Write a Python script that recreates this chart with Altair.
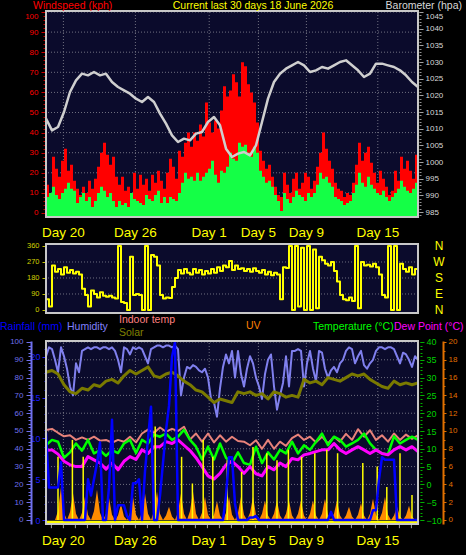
import altair as alt
import pandas as pd

# ---------------- data ----------------
# quarter-day samples, t = 0 .. 31 days
wind_gust = [14,10,28,22, 18,26,32,21, 24,16,12,9, 13,10,16,12, 17,23,30,35, 29,24,28,18,
             14,18,11,13, 9,20,12,19, 14,17,11,19, 15,21,16,12, 20,27,23,17, 31,28,35,40,
             33,40,36,44, 38,55,45,40, 46,42,51,63, 58,61,69,65, 58,75,73,64, 60,55,45,31,
             26,22,24,18, 13,9,8,20, 14,10,17,20, 12,15,20,18, 12,16,23,30, 40,32,26,22,
             15,12,11,8, 10,9,15,24, 35,26,30,33, 25,20,15,21, 17,13,9,11, 21,16,28,22,
             26,21,17,29, 18]
wind_avg = [8,10,13,9, 7,10,12,15, 12,11,5,8, 10,6,8,3, 6,10,13,11, 8,10,6,3,
            6,4,5,3, 10,7,6,5, 4,9,7,6, 9,11,5,8, 5,8,7,6, 10,15,20,17,
            18,16,20,16, 18,20,22,26, 19,15,21,20, 23,30,27,26, 35,33,34,30, 28,33,30,21,
            18,15,16,13, 9,6,1,10, 7,5,8,11, 9,8,6,10, 8,10,14,20, 17,18,15,13,
            8,7,6,4, 5,6,10,14, 20,15,13,18, 14,12,10,9, 11,8,6,8, 10,12,16,13,
            11,10,12,15, 11]
wind_dir = [60,20,250,215, 230,200,240,210, 225,205,215,200, 120,85,20,110, 90,70,100,80,
            75,80,70,65, 360,45,40,0, 300,85,90,85, 0,360,0,310, 300,250,85,65,
            70,68,130,180, 225,205,230,210, 200,230,210,225, 200,220,205,230, 210,240,220,250,
            240,275,225,250, 230,235,220,230, 215,235,220,210, 225,200,215,195, 210,200,60,240,
            236,360,0,360, 20,350,0,360, 0,340,10,300, 280,260,250,270, 220,160,85,60,
            55,70,50,360, 10,270,250,255, 245,260,240,200, 85,70,360,0, 360,0,260,230,
            215,240,200,230, 225]
humidity = [92,97,96,90, 83,97,92,85, 75,70,88,83, 95,96,97,96, 97,97,96,97, 97,96,97,95,
            90,83,97,96, 93,97,96,97, 96,92,88,96, 97,98,98,97, 98,98,97,98, 96,70,80,86,
            85,87,86,84, 83,85,80,68, 66,58,74,86, 93,88,95,80, 95,82,75,85, 92,88,80,75,
            68,82,90,93, 75,62,70,77, 92,75,95,95, 96,95,75,88, 95,85,78,95, 94,85,80,84,
            86,83,88,90, 95,97,96,88, 92,95,87,85, 88,90,95,97, 97,96,97,97, 96,92,88,94,
            93,90,86,92, 90]
rainfall = [10.7,4,4,4, 4,7.1,0,0, 0,0,0,0, 0,0,5,3, 5,7,9.5,0, 0,4,12.3,0,
            1.8,1.8,1.8,0.5, 0,4.5,4.5,5, 0,6,10,13.9, 0,0,3,7, 11,14,20,21.8, 0,0,0,0,
            0,0,0,0, 0,0,0,0, 0,0,0,0, 3,7.7,7.7,2, 0,0,0,0, 0.3,0.3,0.5,0,
            0,0,0,0, 0,0,0,0, 0,0,0,0, 0,0,0,0, 0,0,0,0, 0,0,0,1.0,
            0,0,0,0, 0,0,0,0, 0,0,0,0, 0,1.2,1.2,5, 7.7,7.4,7.4,7.4, 7.4,0,0,0,
            0,0,0,0, 0]
uv_index = [0,0,0,0, 1.0,3.7,0.8,0, 0.9,3.0,0.7,0, 0.8,2.6,0.6,0, 1.0,3.4,0.8,0, 0.7,2.5,0.6,0,
            0.5,1.8,0.4,0, 0.8,2.6,0.6,0, 0.9,3.0,0.7,0, 1.0,3.2,0.7,0, 0.5,1.5,0.4,0, 0.9,3.0,0.7,0,
            1.0,3.2,0.7,0, 0.8,2.6,0.6,0, 0.6,2.1,0.5,0, 0.8,2.6,0.6,0, 0.8,2.6,0.6,0, 0.8,2.6,0.6,0,
            0.7,2.2,0.5,0, 0.7,2.2,0.5,0, 0.7,2.2,0.5,0, 0.7,2.2,0.5,0, 0.7,2.2,0.5,0, 0.7,2.4,0.6,0,
            0.7,2.2,0.5,0, 0.5,1.5,0.4,0, 0.6,1.9,0.5,0, 0.7,2.4,0.6,0, 0.8,2.6,0.6,0, 0.5,1.5,0.4,0,
            0.5,1.6,0.4,0, 0]

# half-day samples
barometer = [1013,1009.5,1010.5,1015,1021,1024.5,1026.5,1026,1027,1026,1026.5,1024,1022.5,
             1021.5,1020.5,1019,1018,1019.5,1018,1014.5,1011.5,1008,1006,1007,1006.5,1008.5,
             1009,1012,1013.5,1011,1004,1001.5,1002.5,1003,1002,1005,1012,1019,1024,1026.5,
             1028,1029,1030,1029,1027,1027.5,1028.5,1028,1029,1030,1030.5,1029,1027.5,1025.5,
             1026.5,1029.5,1029.5,1029,1028.5,1027.5,1026,1024,1022.5]
solar = [83,84,82,76,72,71,74,73,76,75,78,79,77,81,84,82,84,86,81,80,82,83,81,78,76,73,72,
         69,66,68,67,66,72,71,72,70,71,68,72,71,69,70,69,79,77,78,76,80,79,78,80,82,81,82,
         79,77,75,74,78,76,77,76,77]
indoor_temp = [15.3,15.6,14.5,13.5,13.8,12.5,13.2,12.5,13.4,12.3,12.5,11.7,12.5,12.0,13.4,11.8,
               14.3,15.4,14.5,16.0,14.8,15.6,15.0,16.2,12.6,14.3,12.0,14.3,11.8,13.8,12.0,13.4,
               12.2,12.0,11.0,12.4,10.0,12.5,10.0,12.0,10.8,13.0,14.0,12.5,13.4,11.8,13.4,11.5,
               13.4,12.0,14.2,12.5,15.5,13.4,15.2,12.5,13.8,12.0,14.3,12.5,14.0,12.8,13.8]
temperature = [11,12.5,12,7.5,9,11.5,9.5,12.5,8.7,9.6,8,9.6,8.8,11.5,12.5,8.8,12.5,11.5,14,13.4,
               14.3,12.5,13.4,15.3,12.5,10.6,7,10.6,7,11.5,7.5,6,9,6,5.5,10.6,6,9,7,9.7,
               8.7,12,8.7,11,9.7,12,14.3,11,13.4,12.5,10.6,11.5,12.5,14.3,11.5,9.7,8.7,8.5,13.5,
               11.5,12.5,13.4,12.5]
dew_point = [9.5,9.7,8.5,6.5,5.5,5.0,5.0,7.8,6.9,6.0,4.3,6.0,4.1,6.5,7.8,7.0,9.7,8.7,10.6,10.6,
             12.0,11.5,12.5,11.0,9.5,7.5,5.0,2.4,1.5,3.1,5.5,6.5,5.0,3.1,5.0,3.0,2.4,5.0,4.1,6.0,
             5.0,7.3,6.9,8.3,8.7,9.2,9.7,9.7,11.5,9.7,8.7,9.7,10.6,9.7,8.7,9.7,8.7,8.3,9.7,10.6,
             9.7,10.6,9.2]

# thin sunshine spikes (time in days, height on the UV scale)
sun_t = [1.0,2.2,3.1,9.1,11.3,12.2,13.1,13.9,15.1,16.3,17.25,18.4,19.25,20.2,21.3,22.4,23.4,
         24.3,26.4,27.6,28.4,29.5,30.5]
sun_v = [7.1,9.0,7.1,10.5,7.1,4.1,9.0,7.1,6.7,5.4,8.2,7.5,6.7,7.9,7.1,7.5,7.9,7.5,6.4,6.0,
         3.7,7.5,2.8]

day_labels = ["Day 20", "Day 26", "Day 1", "Day 5", "Day 9", "Day 15"]
day_pos = [1.45, 7.45, 13.6, 17.7, 21.7, 27.65]
day_ticks = [k + 0.45 for k in range(31)]

compass = ["N", "W", "S", "E", "N"]
compass_deg = [360, 270, 180, 90, 0]

wind_ticks = list(range(0, 101, 10))
baro_ticks = list(range(985, 1046, 5))
dir_ticks = [0, 90, 180, 270, 360]
hum_ticks = list(range(0, 101, 10))
rain_ticks = [0, 5, 10, 15, 20]
temp_ticks = list(range(-10, 41, 5))
uv_ticks = list(range(0, 21, 2))

# ---------------- helpers ----------------
FONT = "Liberation Sans"
NAVY = "#0b0b2c"
FRAME = "#c8c8c8"
GRID = "#707080"


def fine(vals, base=None):
    d = pd.DataFrame({"t": [i * 0.25 for i in range(len(vals))], "v": vals})
    if base is not None:
        d["b"] = base
    return d


def half(vals):
    return pd.DataFrame({"t": [i * 0.5 for i in range(len(vals))], "v": vals})


XS = alt.Scale(domain=[0, 31], nice=False, zero=False)


def sc(dom, rng):
    return alt.Scale(domain=dom, range=rng, nice=False, zero=False)


WIND = sc([-2, 100.5], [217, 11])
BARO = sc([983.5, 1045.3], [217, 11])
DIR = sc([-16.9, 371.25], [313, 244])
HUM = sc([-2.25, 100.56], [524, 341])
TEMP = sc([-11.12, 40.28], [524, 341])
UV = sc([-0.45, 20.11], [524, 341])
RAIN = sc([-0.49, 21.96], [524, 341])


def X(f="t"):
    return alt.X(f"{f}:Q", scale=XS, axis=None)


def yq(field, scale):
    return alt.Y(f"{field}:Q", scale=scale, axis=None)


def panel_bg(scale, dom):
    d = pd.DataFrame({"x0": [0], "x1": [31], "y0": [dom[0]], "y1": [dom[1]]})
    return alt.Chart(d).mark_rect(fill=NAVY).encode(
        x=X("x0"), x2="x1", y=yq("y0", scale), y2="y1")


def panel_frame(scale, dom):
    d = pd.DataFrame({"x0": [0], "x1": [31], "y0": [dom[0]], "y1": [dom[1]]})
    return alt.Chart(d).mark_rect(fill=None, stroke=FRAME, strokeWidth=2).encode(
        x=X("x0"), x2="x1", y=yq("y0", scale), y2="y1")


def hgrid(scale, vals):
    d = pd.DataFrame({"v": vals})
    return alt.Chart(d).mark_rule(color=GRID, strokeDash=[1, 2], strokeWidth=1).encode(
        y=yq("v", scale))


def vgrid(scale, dom):
    d = pd.DataFrame({"t": day_pos, "lo": dom[0], "hi": dom[1]})
    return alt.Chart(d).mark_rule(color=GRID, strokeDash=[1, 2], strokeWidth=1).encode(
        x=X(), y=yq("lo", scale), y2="hi")


def axis_layer(scale, value, **kw):
    base = dict(grid=False, title=None, labelFont=FONT, labelFontSize=8, labelOverlap=False,
                domain=False, format="d")
    base.update(kw)
    d = pd.DataFrame({"v": [value]})
    return alt.Chart(d).mark_point(opacity=0).encode(
        x=alt.value(0), y=alt.Y("v:Q", scale=scale, axis=alt.Axis(**base)))


def minor(scale, value, vals, orient, color, size, offset=0):
    return axis_layer(scale, value, orient=orient, values=vals, labels=False,
                      tickColor=color, tickSize=size, offset=offset)


def line(df, scale, color, width, interp="linear"):
    return alt.Chart(df).mark_line(color=color, strokeWidth=width, strokeJoin="round",
                                   interpolate=interp).encode(
        x=X(), y=yq("v", scale))


def text(label, x, y, color, size=11, align="left"):
    d = pd.DataFrame({"s": [label]})
    return alt.Chart(d).mark_text(align=align, baseline="middle", font=FONT, fontSize=size,
                                  color=color).encode(
        x=alt.value(x), y=alt.value(y), text="s:N")


def top_label_below(limit):
    # the topmost label sits just under its tick so it clears the header text
    return {"condition": {"test": f"datum.value >= {limit}", "value": "top"}, "value": "middle"}


layers = []

# ---------------- panel 1 : wind speed + barometer ----------------
layers += [panel_bg(WIND, [-2, 100.5]),
           hgrid(WIND, list(range(10, 101, 10))),
           vgrid(WIND, [-2, 100.5])]
layers.append(alt.Chart(fine(wind_gust, -2)).mark_area(color="#ff0000", interpolate="step-after").encode(
    x=X(), y=yq("v", WIND), y2="b"))
layers.append(alt.Chart(fine(wind_avg, -2)).mark_area(color="#14ff46", interpolate="step-after").encode(
    x=X(), y=yq("v", WIND), y2="b"))
layers.append(line(half(barometer), BARO, "#cfcfcf", 2.5))
layers.append(panel_frame(WIND, [-2, 100.5]))
layers += [
    minor(WIND, 0, [i * 2 for i in range(51)], "left", "#cc0000", 3),
    axis_layer(WIND, 0, orient="left", values=wind_ticks, labelColor="#ff0000",
               tickColor="#cc0000", tickSize=5, labelPadding=3,
               labelBaseline=top_label_below(100)),
    minor(BARO, 1000, list(range(984, 1046)), "right", "#909090", 2, 1),
    axis_layer(BARO, 1000, orient="right", values=baro_ticks, labelColor="#d8d8d8",
               tickColor="#a0a0a0", tickSize=4, labelPadding=2, offset=1,
               labelBaseline=top_label_below(1045)),
]

# ---------------- panel 2 : wind direction ----------------
layers += [panel_bg(DIR, [-16.9, 371.25]), hgrid(DIR, [90, 180, 270])]
layers.append(line(fine(wind_dir), DIR, "#ffff00", 2, "step-after"))
layers.append(panel_frame(DIR, [-16.9, 371.25]))
layers.append(axis_layer(DIR, 0, orient="left", values=dir_ticks, labelColor="#d0d000",
                         tickColor="#c0c000", tickSize=4, labelPadding=3, labelFontSize=7.5))
layers.append(alt.Chart(pd.DataFrame({"s": compass, "deg": compass_deg})).mark_text(
    font=FONT, fontSize=12, color="#ffff00", baseline="middle").encode(
    x=alt.value(393), y=yq("deg", DIR), text="s:N"))

# ---------------- panel 3 : rain, humidity, temperature ... ----------------
layers += [panel_bg(TEMP, [-11.12, 40.28]), hgrid(TEMP, list(range(-5, 41, 5))),
           vgrid(TEMP, [-11.12, 40.28])]
layers.append(line(fine(humidity), HUM, "#8080ee", 2))
layers.append(line(half(solar), HUM, "#7a7a00", 3))
layers.append(line(half(indoor_temp), TEMP, "#e8827a", 2))
layers.append(line(half(temperature), TEMP, "#00ff00", 2.5))
layers.append(line(half(dew_point), TEMP, "#ff00ff", 3))
layers.append(alt.Chart(fine(uv_index, 0)).mark_area(color="#ff8c00").encode(
    x=X(), y=yq("v", UV), y2="b"))
layers.append(alt.Chart(pd.DataFrame({"t": sun_t, "v": sun_v, "b": 0})).mark_rule(
    color="#ffff00", strokeWidth=1.5).encode(x=X(), y=yq("v", UV), y2="b"))
layers.append(alt.Chart(pd.DataFrame({"t": [0, 31], "v": [-0.25, -0.25]})).mark_line(
    color="#ffff00", strokeWidth=3).encode(x=X(), y=yq("v", UV)))
layers.append(line(fine(rainfall), RAIN, "#0000ff", 2.5))
layers.append(panel_frame(TEMP, [-11.12, 40.28]))
layers.append(alt.Chart(pd.DataFrame({"t": day_ticks, "lo": -11.4, "hi": -12.3})).mark_rule(
    color="#a0a0a0").encode(x=X(), y=yq("lo", TEMP), y2="hi"))
layers += [
    minor(RAIN, 0, list(range(0, 22)), "left", "#2020ff", 2),
    axis_layer(RAIN, 0, orient="left", values=rain_ticks, labelColor="#1a1aff",
               tickColor="#2020ff", tickSize=4, labelPadding=2, labelFontSize=9),
    minor(HUM, 0, list(range(0, 101, 2)), "left", "#7070ee", 3, 15),
    axis_layer(HUM, 0, orient="left", values=hum_ticks, labelColor="#7070ee",
               tickColor="#7070ee", tickSize=5, labelPadding=3, offset=15,
               domain=True, domainColor="#7070ee", domainWidth=2),
    minor(TEMP, 0, list(range(-10, 41)), "right", "#00b000", 2, 2),
    axis_layer(TEMP, 0, orient="right", values=temp_ticks, labelColor="#00d000",
               tickColor="#00b000", tickSize=4, labelPadding=2, offset=2, labelFontSize=9),
    minor(UV, 0, [i * 0.5 for i in range(41)], "right", "#e07000", 2, 25),
    axis_layer(UV, 0, orient="right", values=uv_ticks, labelColor="#e07000",
               tickColor="#e07000", tickSize=3, labelPadding=2, offset=25,
               domain=True, domainColor="#e07000", domainWidth=2),
]

# ---------------- texts ----------------
days_df = pd.DataFrame({"t": day_pos, "s": day_labels})
for yy in (233, 541):
    layers.append(alt.Chart(days_df).mark_text(font=FONT, fontSize=13.5, color="#ffff00",
                                               baseline="middle").encode(
        x=X(), y=alt.value(yy), text="s:N"))

layers += [
    text("Windspeed (kph)", -13, 6, "#ff0000", 10.5),
    text("Current last 30 days 18 June 2026", 207, 6, "#ffff00", 10.5, align="center"),
    text("Barometer (hpa)", 416, 6, "#d8d8d8", 10.5, align="right"),
    text("Rainfall (mm)", -46, 327, "#0000ff", 10.5),
    text("Humidity", 21, 327, "#8080ff", 10.5),
    text("Indoor temp", 73, 320, "#ff8080", 10.5),
    text("Solar", 73, 333, "#808000", 10.5),
    text("UV", 200, 326, "#ff8000", 10.5),
    text("Temperature (\u00b0C)", 267, 327, "#00ff00", 10.5),
    text("Dew Point (\u00b0C)", 348, 327, "#ff00ff", 10.5),
]

chart = alt.layer(*layers).resolve_scale(y="independent").properties(
    width=372, height=555,
    padding={"left": 46, "right": 48, "top": 0, "bottom": 0},
    autosize=alt.AutoSizeParams(type="none"),
    background="#000000",
).configure_view(stroke=None)

chart.save("out.html", embed_options={"renderer": "svg", "actions": False})
